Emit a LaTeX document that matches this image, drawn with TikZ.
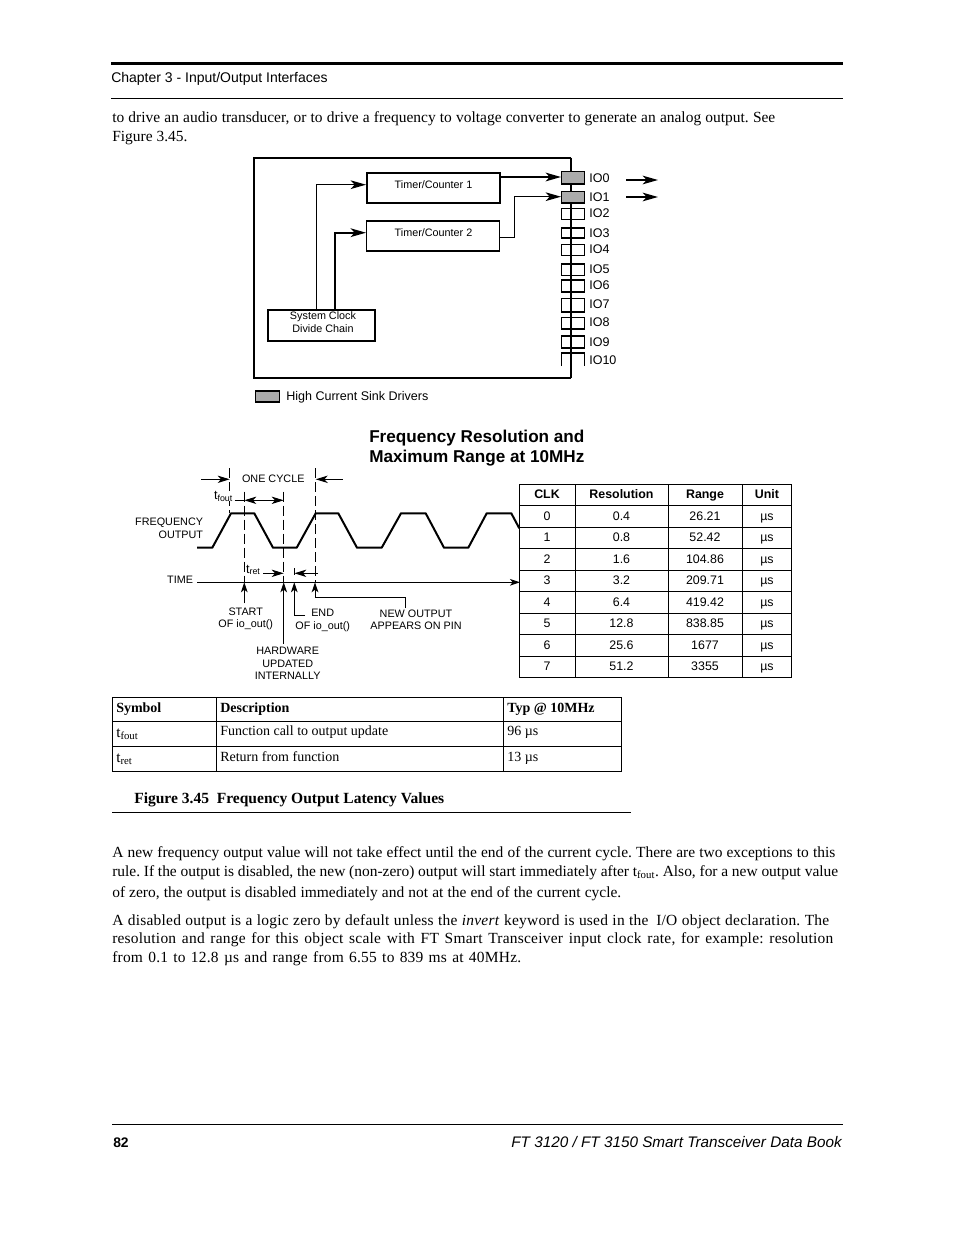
\documentclass[tikz,border=0pt]{standalone}
\usepackage{fontspec}
\setmainfont{Liberation Serif}
\setsansfont{Liberation Sans}
\usetikzlibrary{arrows.meta}
\newcommand{\sz}[1]{\fontsize{#1}{#1}\selectfont}
\frenchspacing
\tikzset{
  px/.style={line width=#1*0.75pt},
  hh/.style={minimum height=#1*0.75pt},
  ww/.style={minimum width=#1*0.75pt},
  txt/.style={inner sep=0pt,anchor=base west},
  body/.style={txt,font=\rmfamily\sz{11.6pt}},
  bodysp/.style={txt,font=\rmfamily\sz{11.6pt}\addfontfeature{LetterSpace=1.5}},
  small/.style={inner sep=0pt,anchor=base,font=\sffamily\sz{8.1pt},align=center},
  smallr/.style={small,anchor=base east},
  smalll/.style={small,anchor=base west},
  iolab/.style={inner sep=0pt,anchor=base west,font=\sffamily\sz{9.4pt}},
  hdr/.style={inner sep=0pt,anchor=base,font=\sffamily\bfseries\sz{9.3pt}},
  cell/.style={inner sep=0pt,anchor=base,font=\sffamily\sz{9.3pt}},
  ttxt/.style={txt,font=\rmfamily\sz{10.5pt}},
  tbold/.style={txt,font=\rmfamily\bfseries\sz{10.5pt}},
  boxn/.style={draw=black,inner sep=0pt,anchor=north west},
  io/.style={draw=black,px=1.3,inner sep=0pt,ww=23,anchor=north west},
  hi/.style={io,fill=black!33},
  head/.style={-{Stealth[length=11.5pt,width=6.5pt,inset=3pt]}},
  shead/.style={-{Stealth[length=7.5pt,width=5pt,inset=2pt]}},
  lhead/.style={-{Stealth[length=9pt,width=5.5pt,inset=2.5pt]}},
  both/.style={{Stealth[length=9pt,width=5.5pt,inset=2.5pt]}-{Stealth[length=9pt,width=5.5pt,inset=2.5pt]}},
  gapd/.style={px=1,dash pattern=on 7.5pt off 3pt},
}
\begin{document}
\begin{tikzpicture}[x=0.75pt,y=-0.75pt,line cap=butt]
\useasboundingbox[fill=white] (0,0) rectangle (954,1235);
% page furniture
\coordinate (hl) at (111,63.5); \coordinate (hr) at (843,63.5);
\draw[px=3] (hl) -- (hr);
\coordinate (hl2) at (111,98); \coordinate (hr2) at (843,98);
\draw[px=1] (hl2) -- (hr2);
\node[txt,font=\sffamily\sz{10.5pt}] (chap) at (111,82) {Chapter 3 - Input/Output Interfaces};
\node[body] (l1) at (112,122) {\makebox[497.25pt][s]{to drive an audio transducer, or to drive a frequency to voltage converter to generate an analog output. See}};
\node[body] (l2) at (112,141) {Figure 3.45.};
% block diagram
\coordinate (otr) at (571,157.5); \coordinate (obr) at (571,378); \coordinate (otl) at (254,157.5); \coordinate (obl) at (254,378);
\draw[px=1.2] (otr) -- (obr);
\draw[px=2,line join=miter] (otr) -- (otl) -- (obl) -- (obr);
\node[boxn,px=1.7,ww=133,hh=30] (tc1) at (366,172) {};
\node[boxn,px=1.4,ww=133,hh=30] (tc2) at (366,220.3) {};
\node[boxn,px=1.5,ww=107,hh=31] (sc) at (267,309.3) {};
\node[small] (tc1t) at (433.5,188) {Timer/Counter 1};
\node[small] (tc2t) at (433.5,236) {Timer/Counter 2};
\node[small] (sc1) at (323,319) {System Clock};
\node[small] (sc2) at (323,332) {Divide Chain};
\node[hi,hh=12.6] (io0) at (561,170.7) {};
\node[hi,hh=11.6] (io1) at (561,190.7) {};
\node[io,hh=11] (io2) at (561,208) {};
\node[io,hh=10] (io3) at (561,227.3) {};
\node[io,hh=11] (io4) at (561,243.7) {};
\node[io,hh=11.4] (io5) at (561,263.3) {};
\node[io,hh=12] (io6) at (561,279.3) {};
\node[io,hh=13.3] (io7) at (561,298) {};
\node[io,hh=11.3] (io8) at (561,317) {};
\node[io,hh=12] (io9) at (561,335.3) {};
\coordinate (iokbl) at (561.5,366); \coordinate (iokbr) at (584.5,366);
\coordinate (ioktl) at (561.5,353); \coordinate (ioktr) at (584.5,353);
\draw[px=1.3] (iokbl) -- (ioktl) -- (ioktr) -- (iokbr);
\foreach \n/\y/\t in {a/182/IO0,b/201/IO1,c/217/IO2,d/237/IO3,e/253/IO4,f/273/IO5,g/289/IO6,h/308/IO7,i/326/IO8,j/346/IO9,k/364/IO10}
  \node[iolab] (lab\n) at (589,\y) {\t};
\coordinate (c1) at (316.7,184.7);
\coordinate (c2) at (335,232.7);
\draw[px=1.4,head] (sc.north -| c1) -- (c1) -- (c1 -| tc1.west);
\draw[px=2.2,head] (sc.north -| c2) -- (c2) -- (c2 -| tc2.west);
\coordinate (c3) at (499,177);
\draw[px=2,head] (c3) -- (c3 -| io0.west);
\coordinate (c4) at (514.3,237.7);
\coordinate (c5) at (514.3,196.7);
\draw[px=1.4,head] (c4 -| tc2.east) -- (c4) -- (c5) -- (c5 -| io1.west);
\coordinate (e1a) at (626,180); \coordinate (e1b) at (658,180);
\coordinate (e2a) at (626,197); \coordinate (e2b) at (658,197);
\draw[px=1.7,head] (e1a) -- (e1b);
\draw[px=1.7,head] (e2a) -- (e2b);
\node[hi,px=1.5,ww=24,hh=11] (leg) at (254.5,390) {};
\node[iolab] (legt) at (286,400) {High Current Sink Drivers};
% title
\node[txt,font=\sffamily\bfseries\sz{12.85pt}] (ti1) at (369,442) {Frequency Resolution and};
\node[txt,font=\sffamily\bfseries\sz{12.85pt}] (ti2) at (369,462) {Maximum Range at 10MHz};
% waveform
\draw[px=2,line join=round] (197,547.7) -- (212.3,547.7) -- (231,513.3) -- (254.3,513.3) -- (273,547.7) -- (296.7,547.7) -- (315.7,513.3) -- (338.3,513.3) -- (357,547.7) -- (381.7,547.7) -- (401,513.3) -- (425.7,513.3) -- (444,547.7) -- (468.3,547.7) -- (486.7,513.3) -- (511.3,513.3) -- (519.3,528.3);
\coordinate (ax0) at (197,582.3); \coordinate (ax1) at (520,582.3);
\draw[px=1,shead] (ax0) -- (ax1);
\coordinate (d1t) at (229.7,468); \coordinate (d1b) at (229.7,513);
\coordinate (d2t) at (244.3,491.7); \coordinate (d2b) at (244.3,582);
\coordinate (d3t) at (283.7,491.7); \coordinate (d3b) at (283.7,582);
\coordinate (d4t) at (315.7,468); \coordinate (d4b) at (315.7,582);
\draw[gapd] (d1t) -- (d1b);
\draw[gapd] (d2t) -- (d2b);
\draw[gapd] (d3t) -- (d3b);
\draw[gapd] (d4t) -- (d4b);
\coordinate (tk1) at (294.3,568); \coordinate (tk2) at (294.3,575);
\draw[px=1] (tk1) -- (tk2);
\coordinate (oa) at (201,479.3); \coordinate (ob) at (342.7,479.3);
\draw[px=1,lhead] (oa) -- (oa -| d1t);
\draw[px=1,lhead] (ob) -- (ob -| d4t);
\node[small] (onec) at (273.3,482) {ONE CYCLE};
\node[small,font=\sffamily\sz{9.5pt},fill=white] (tf) at (223.5,499) {t\textsubscript{fout}};
\coordinate (tfa) at (234.5,500.3);
\draw[px=1] (tfa) -- (tfa -| d2t);
\draw[px=1,both] (tfa -| d2t) -- (tfa -| d3t);
\node[small,font=\sffamily\sz{9.5pt}] (tr) at (253.3,573) {t\textsubscript{ret}};
\coordinate (tra) at (263.3,573.3); \coordinate (trb) at (318,573.3);
\draw[px=1,lhead] (tra) -- (tra -| d3t);
\draw[px=1,lhead] (trb) -- (trb -| tk1);
\coordinate (u1) at (244.3,603.3);
\coordinate (u2) at (283.7,644);
\coordinate (u3) at (305,615); \coordinate (u3b) at (294.3,615);
\coordinate (u4) at (405.7,608); \coordinate (u4b) at (405.7,597.7); \coordinate (u4c) at (315,597.7);
\draw[px=1,shead] (u1) -- (u1 |- ax0);
\draw[px=1,shead] (u2) -- (u2 |- ax0);
\draw[px=1,shead] (u3) -- (u3b) -- (u3b |- ax0);
\draw[px=1,shead] (u4) -- (u4b) -- (u4c) -- (u4c |- ax0);
\node[smallr] (f1) at (203.3,525) {FREQUENCY};
\node[smallr] (f2) at (203.3,538) {OUTPUT};
\node[smallr] (tim) at (193.3,583) {TIME};
\node[small] (st1) at (245.7,615) {START};
\node[small] (st2) at (245.7,627.5) {OF io\_out()};
\node[smalll] (en1) at (311,616) {END};
\node[small] (en2) at (322.7,629.5) {OF io\_out()};
\node[small] (no1) at (416,617) {NEW OUTPUT};
\node[small] (no2) at (416,629) {APPEARS ON PIN};
\node[small] (hw1) at (287.7,654) {HARDWARE};
\node[small] (hw2) at (287.7,667) {UPDATED};
\node[small] (hw3) at (287.7,679.5) {INTERNALLY};
% CLK table
\draw[px=1] (519,484) rectangle (791.5,677.5);
\foreach \x in {575,668,742.5} \draw[px=1] (\x,484) -- (\x,677.5);
\foreach \y in {505,527.3,548.3,570,591.7,613.3,634.5,656.7} \draw[px=1] (519,\y) -- (791.5,\y);
\node[hdr] (h1) at (547,498) {CLK};
\node[hdr] (h2) at (621.5,498) {Resolution};
\node[hdr] (h3) at (705,498) {Range};
\node[hdr] (h4) at (767,498) {Unit};
\foreach \r/\y/\a/\b in {0/520/0.4/26.21,1/541/0.8/52.42,2/563/1.6/104.86,3/584/3.2/209.71,4/606/6.4/419.42,5/627/12.8/838.85,6/649/25.6/1677,7/670/51.2/3355}{
  \node[cell] (ca\r) at (547,\y) {\r};
  \node[cell] (cb\r) at (621.5,\y) {\a};
  \node[cell] (cc\r) at (705,\y) {\b};
  \node[cell] (cd\r) at (767,\y) {µs};
}
% latency table
\draw[px=1] (112,697) rectangle (621.5,771.5);
\draw[px=1.6] (216.5,697) -- (216.5,771.5);
\draw[px=1] (503,697) -- (503,771.5);
\draw[px=1] (112,721) -- (621.5,721);
\draw[px=1] (112,746) -- (621.5,746);
\node[tbold] (t1) at (116,712) {Symbol};
\node[tbold] (t2) at (220,712) {Description};
\node[tbold] (t3) at (507,712) {Typ @ 10MHz};
\node[ttxt,font=\rmfamily\sz{11.5pt}] (t4) at (116,737) {t\textsubscript{fout}};
\node[ttxt] (t5) at (220,735) {Function call to output update};
\node[ttxt] (t6) at (507,735) {96 µs};
\node[ttxt,font=\rmfamily\sz{11.5pt}] (t7) at (116,762) {t\textsubscript{ret}};
\node[ttxt] (t8) at (220,761) {Return from function};
\node[ttxt] (t9) at (507,761) {13 µs};
\node[tbold,font=\rmfamily\bfseries\sz{11.65pt}] (cap) at (134,803) {Figure 3.45\hspace{0.5em}Frequency Output Latency Values};
\coordinate (cr1) at (112,812); \coordinate (cr2) at (631,812);
\draw[px=1] (cr1) -- (cr2);
% paragraphs
\node[body] (p1) at (112,857) {\makebox[542.25pt][s]{A new frequency output value will not take effect until the end of the current cycle. There are two exceptions to this}};
\node[body] (p2) at (112,876) {\makebox[544.5pt][s]{rule. If the output is disabled, the new (non-zero) output will start immediately after t\textsubscript{fout}. Also, for a new output value}};
\node[body] (p3) at (112,897) {\makebox[381.75pt][s]{of zero, the output is disabled immediately and not at the end of the current cycle.}};
\node[bodysp] (p4) at (112,925) {\makebox[537.75pt][s]{A disabled output is a logic zero by default unless the \textit{invert} keyword is used in the\hspace{0.5em}I/O object declaration. The}};
\node[bodysp] (p5) at (112,943) {\makebox[540.75pt][s]{resolution and range for this object scale with FT Smart Transceiver input clock rate, for example: resolution}};
\node[bodysp] (p6) at (112,962) {\makebox[306.75pt][s]{from 0.1 to 12.8 µs and range from 6.55 to 839 ms at 40MHz.}};
% footer
\coordinate (fl) at (112,1124.5); \coordinate (fr) at (843,1124.5);
\draw[px=1] (fl) -- (fr);
\node[txt,font=\sffamily\bfseries\sz{10.4pt}] (pg) at (113,1147) {82};
\node[inner sep=0pt,anchor=base east,font=\sffamily\itshape\sz{11.47pt}] (bk) at (842,1147) {FT 3120 / FT 3150 Smart Transceiver Data Book};
\end{tikzpicture}
\end{document}
